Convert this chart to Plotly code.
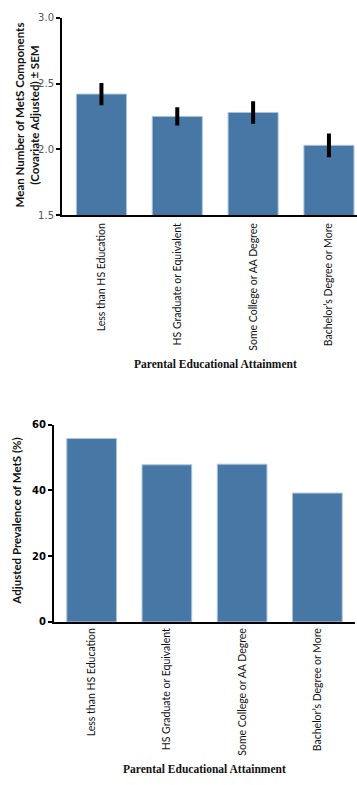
import plotly.graph_objects as go

categories = ["Less than HS Education", "HS Graduate or Equivalent",
              "Some College or AA Degree", "Bachelor\u2019s Degree or More"]
mean_components = [2.42, 2.25, 2.28, 2.03]
sem_components = [0.085, 0.07, 0.085, 0.09]
prevalence = [55.8, 47.8, 48.0, 39.2]

W, H = 357, 785
BAR = "#4777a5"
EDGE = "#a9c3dc"
TICKFONT = dict(family="Lato, sans-serif", size=10.5, color="#111")
SERIF_B = "Liberation Serif, DejaVu Serif, serif"
SANS_B = "Lato, sans-serif"

def px_x(p):
    return p / W

def px_y(p):
    return 1 - p / H

fig = go.Figure()
fig.add_trace(go.Bar(
    x=categories, y=mean_components, xaxis="x", yaxis="y",
    marker=dict(color=BAR, line=dict(color=EDGE, width=1)),
    width=0.66,
    error_y=dict(type="data", array=sem_components, color="black",
                 thickness=4, width=0),
))
fig.add_trace(go.Bar(
    x=categories, y=prevalence, xaxis="x2", yaxis="y2",
    marker=dict(color=BAR, line=dict(color=EDGE, width=1)),
    width=0.66,
))

axis_common = dict(showline=True, linecolor="black", linewidth=2,
                   showgrid=False, zeroline=False, mirror=False)

fig.update_layout(
    width=W, height=H, margin=dict(l=0, r=0, t=0, b=0),
    paper_bgcolor="white", plot_bgcolor="white", showlegend=False,
    xaxis=dict(domain=[px_x(62), 1.0], anchor="y", range=[-0.52, 3.37],
               tickangle=-90, tickfont=TICKFONT, ticks="", ticklabelstandoff=2,
               **axis_common),
    yaxis=dict(domain=[px_y(213), px_y(13)], anchor="x", range=[1.5, 3.0],
               tickvals=[1.5, 2.0, 2.5, 3.0], ticktext=["1.5", "2.0", "2.5", "3.0"],
               ticks="outside", ticklen=4, tickwidth=2, tickcolor="black",
               tickfont=dict(family="DejaVu Sans, sans-serif", size=10, color="#555"),
               **axis_common),
    xaxis2=dict(domain=[px_x(54), px_x(355)], anchor="y2", range=[-0.5, 3.5],
                tickangle=-90, tickfont=TICKFONT, ticks="", ticklabelstandoff=0,
                **axis_common),
    yaxis2=dict(domain=[px_y(625.7), px_y(425.7)], anchor="x2", range=[0, 60],
                tickvals=[0, 20, 40, 60],
                ticks="outside", ticklen=4, tickwidth=2, tickcolor="black",
                tickfont=dict(family="DejaVu Sans, sans-serif", size=10, color="black", weight="bold"),
                **axis_common),
    annotations=[
        dict(text="<b>Parental Educational Attainment</b>", xref="paper", yref="paper",
             x=px_x(215), y=px_y(364), xanchor="center", yanchor="middle", showarrow=False,
             font=dict(family=SERIF_B, size=11.5, color="#111")),
        dict(text="<b>Parental Educational Attainment</b>", xref="paper", yref="paper",
             x=px_x(205), y=px_y(775), xanchor="center", yanchor="middle", showarrow=False,
             font=dict(family=SERIF_B, size=11.5, color="#111")),
        dict(text="<b>Mean Number of MetS Components<br>(Covariate Adjusted) \u00b1 SEM</b>",
             xref="paper", yref="paper", x=px_x(27), y=px_y(112), textangle=-90,
             xanchor="center", yanchor="middle",
             showarrow=False, font=dict(family=SANS_B, size=11.5, color="#111")),
        dict(text="<b>Adjusted Prevalence of MetS (%)</b>",
             xref="paper", yref="paper", x=px_x(17), y=px_y(524), textangle=-90,
             xanchor="center", yanchor="middle",
             showarrow=False, font=dict(family=SANS_B, size=11.5, color="#111")),
    ],
)

fig.write_html("out.html")
